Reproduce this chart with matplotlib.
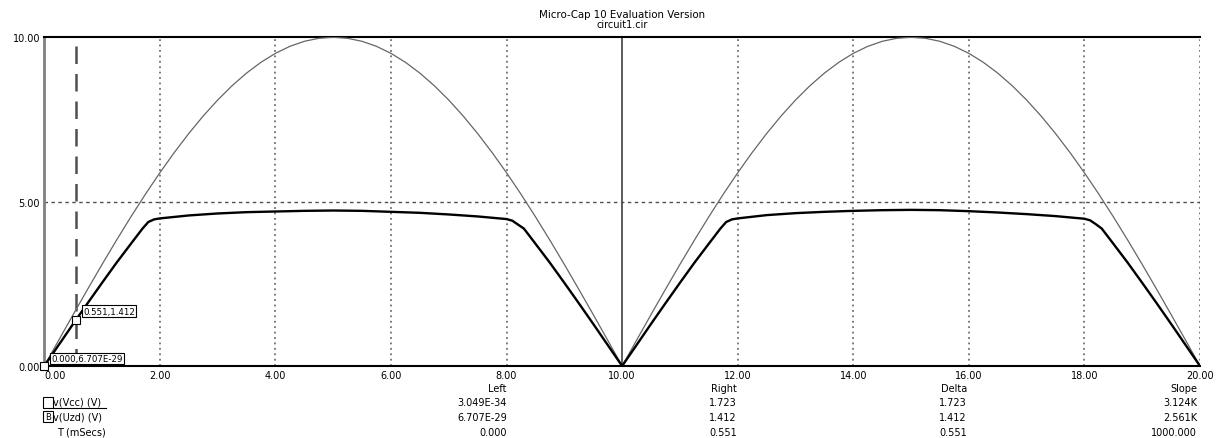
import numpy as np
import matplotlib
matplotlib.use("Agg")
import matplotlib.pyplot as plt

plt.rcParams['font.family'] = ['DejaVu Sans']

# temps (ms) et tension d'alimentation redressée v(Vcc)
t_vcc = np.arange(0, 20.01, 0.25)
v_vcc = [0.000, 0.785, 1.564, 2.334, 3.090, 3.827, 4.540, 5.225, 5.878, 6.494,
         7.071, 7.604, 8.090, 8.526, 8.910, 9.239, 9.511, 9.724, 9.877, 9.969,
         10.000, 9.969, 9.877, 9.724, 9.511, 9.239, 8.910, 8.526, 8.090, 7.604,
         7.071, 6.494, 5.878, 5.225, 4.540, 3.827, 3.090, 2.334, 1.564, 0.785,
         0.000, 0.785, 1.564, 2.334, 3.090, 3.827, 4.540, 5.225, 5.878, 6.494,
         7.071, 7.604, 8.090, 8.526, 8.910, 9.239, 9.511, 9.724, 9.877, 9.969,
         10.000, 9.969, 9.877, 9.724, 9.511, 9.239, 8.910, 8.526, 8.090, 7.604,
         7.071, 6.494, 5.878, 5.225, 4.540, 3.827, 3.090, 2.334, 1.564, 0.785,
         0.000]

# tension aux bornes de la zener v(Uzd)
t_uzd = [0.0, 0.25, 0.5, 0.75, 1.0, 1.25, 1.5, 1.6, 1.7, 1.8, 1.9, 2.0, 2.5,
         3.0, 3.5, 4.0, 4.5, 5.0, 5.5, 6.0, 6.5, 7.0, 7.5, 8.0, 8.1, 8.2, 8.3,
         8.4, 8.5, 8.75, 9.0, 9.25, 9.5, 9.75, 10.0,
         10.25, 10.5, 10.75, 11.0, 11.25, 11.5, 11.6, 11.7, 11.8, 11.9, 12.0,
         12.5, 13.0, 13.5, 14.0, 14.5, 15.0, 15.5, 16.0, 16.5, 17.0, 17.5,
         18.0, 18.1, 18.2, 18.3, 18.4, 18.5, 18.75, 19.0, 19.25, 19.5, 19.75,
         20.0]
v_uzd = [0.00, 0.64, 1.28, 1.91, 2.53, 3.14, 3.72, 3.95, 4.18, 4.38, 4.46,
         4.49, 4.58, 4.64, 4.68, 4.70, 4.72, 4.73, 4.72, 4.69, 4.66, 4.61,
         4.55, 4.47, 4.42, 4.30, 4.18, 3.95, 3.72, 3.14, 2.53, 1.91, 1.28,
         0.64, 0.00,
         0.64, 1.28, 1.91, 2.53, 3.14, 3.72, 3.95, 4.18, 4.38, 4.46, 4.49,
         4.59, 4.65, 4.69, 4.72, 4.74, 4.75, 4.74, 4.71, 4.67, 4.62, 4.56,
         4.48, 4.43, 4.31, 4.18, 3.95, 3.72, 3.14, 2.53, 1.91, 1.28, 0.64,
         0.00]

x_ticks = [0, 2, 4, 6, 8, 10, 12, 14, 16, 18, 20]
y_ticks = [0, 5, 10]

# curseurs
cur_left = (0.000, 6.707e-29)
cur_right = (0.551, 1.412)

table_header = ["Left", "Right", "Delta", "Slope"]
table_vcc = ["3.049E-34", "1.723", "1.723", "3.124K"]
table_uzd = ["6.707E-29", "1.412", "1.412", "2.561K"]
table_t = ["0.000", "0.551", "0.551", "1000.000"]

W, H = 1226, 439
FS = 7.0
fig = plt.figure(figsize=(12.26, 4.39), dpi=100)
ax = fig.add_axes([0.0361, 0.164, 0.9427, 0.7488])

ax.set_xlim(0, 20)
ax.set_ylim(0, 10)

# grille pointillée
for x in x_ticks[1:]:
    if x == 10:
        ax.axvline(x, color='#404040', lw=1.2, zorder=1)
    else:
        ax.axvline(x, color='#707070', lw=1.3, ls=(0, (1, 2)), zorder=1)
ax.axhline(5, color='#505050', lw=1.0, ls=(0, (2.5, 2.5)), zorder=1)

ax.plot(t_vcc, v_vcc, color='#666666', lw=0.9, zorder=3)
ax.plot(t_uzd, v_uzd, color='black', lw=1.7, zorder=4)

# curseur droit (pointillé long)
ax.axvline(cur_right[0], color='#505050', lw=1.8, ls=(0, (7, 4)), zorder=2)

ax.plot(cur_right[0], cur_right[1], marker='s', ms=6, mfc='white',
        mec='black', mew=0.8, zorder=5)
ax.plot(cur_left[0], cur_left[1], marker='s', ms=6, mfc='white',
        mec='black', mew=0.8, zorder=5, clip_on=False)
box = dict(boxstyle='square,pad=0.15', fc='white', ec='black', lw=0.8)
ax.annotate("0.551,1.412", xy=cur_right, xytext=(5, 6),
            textcoords='offset points', fontsize=6.2, va='center', ha='left',
            bbox=box, zorder=6)
ax.annotate("0.000,6.707E-29", xy=cur_left, xytext=(5, 5.5),
            textcoords='offset points', fontsize=6.2, va='center', ha='left',
            bbox=box, zorder=6)

ax.spines['right'].set_visible(False)
ax.spines['left'].set_color('#808080')
ax.spines['left'].set_linewidth(2.0)
ax.spines['top'].set_linewidth(1.5)
ax.spines['bottom'].set_linewidth(1.5)

ax.set_xticks(x_ticks)
ax.set_xticklabels(["%.2f" % v for v in x_ticks], fontsize=FS)
ax.set_yticks(y_ticks)
ax.set_yticklabels(["%.2f" % v for v in y_ticks], fontsize=FS)
ax.tick_params(length=0, pad=3)
ax.get_xticklabels()[0].set_ha('left')

# titre
fig.text(622 / W, 1 - 15.5 / H, "Micro-Cap 10 Evaluation Version", fontsize=7.4,
         ha='center', va='center')
fig.text(622 / W, 1 - 25 / H, "circuit1.cir", fontsize=7.0, ha='center',
         va='center')

# tableau des curseurs
col_x = [507, 737, 967, 1197]
row_y = [389, 403, 418, 433]
for i, cx in enumerate(col_x):
    for j, val in enumerate([table_header[i], table_vcc[i], table_uzd[i], table_t[i]]):
        fig.text(cx / W, 1 - row_y[j] / H, val, fontsize=FS, ha='right',
                 va='center')

fig.text(53 / W, 1 - 403 / H, "v(Vcc) (V)", fontsize=FS, ha='left', va='center')
fig.text(53 / W, 1 - 418 / H, "v(Uzd) (V)", fontsize=FS, ha='left', va='center')
fig.text(57 / W, 1 - 433 / H, "T (mSecs)", fontsize=FS, ha='left', va='center')
fig.add_artist(plt.Rectangle((43 / W, 1 - 409 / H), 10 / W, 11 / H, fill=False,
                             ec='black', lw=0.8, transform=fig.transFigure))
fig.add_artist(plt.Line2D([53 / W, 106 / W], [1 - 409 / H, 1 - 409 / H],
                          color='black', lw=0.8, transform=fig.transFigure))
fig.add_artist(plt.Rectangle((43 / W, 1 - 423 / H), 10 / W, 11 / H, fill=False,
                             ec='black', lw=0.8, transform=fig.transFigure))
fig.text(48 / W, 1 - 417.5 / H, "B", fontsize=6, ha='center', va='center')

fig.savefig("out.png", dpi=100)
